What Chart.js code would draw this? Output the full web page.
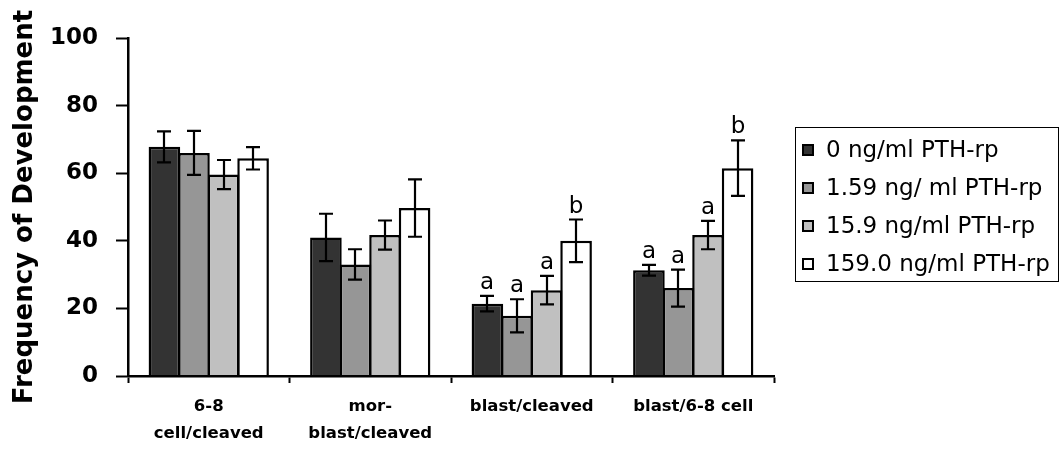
<!DOCTYPE html>
<html>
<head>
<meta charset="utf-8">
<script src="https://cdn.jsdelivr.net/npm/chart.js@4/dist/chart.umd.min.js"></script>
<style>
  html, body { margin: 0; padding: 0; background: #fff; }
  canvas { display: block; }
</style>
</head>
<body>
<canvas id="chart" width="1060" height="450"></canvas>
<script>
const FONT = "'DejaVu Sans', sans-serif"

const categories = [
  ['6-8', 'cell/cleaved'],
  ['mor-', 'blast/cleaved'],
  'blast/cleaved',
  'blast/6-8 cell',
]

const seriesLabels = [
  '0 ng/ml PTH-rp',
  '1.59 ng/ ml PTH-rp',
  '15.9 ng/ml PTH-rp',
  '159.0 ng/ml PTH-rp',
]

const seriesColors = ['#333333', '#969696', '#c0c0c0', '#ffffff']

const dose0 = [67.8, 41.0, 21.4, 31.3]
const dose1 = [66.0, 33.0, 17.8, 26.0]
const dose2 = [59.6, 41.7, 25.4, 41.7]
const dose3 = [64.4, 49.7, 40.0, 61.5]

const err0 = [4.6, 7.0, 2.3, 1.6]
const err1 = [6.5, 4.5, 4.9, 5.5]
const err2 = [4.3, 4.3, 4.2, 4.2]
const err3 = [3.3, 8.5, 6.3, 8.2]

const letters0 = ['', '', 'a', 'a']
const letters1 = ['', '', 'a', 'a']
const letters2 = ['', '', 'a', 'a']
const letters3 = ['', '', 'b', 'b']

const yTicks = [0, 20, 40, 60, 80, 100]

const values = [dose0, dose1, dose2, dose3]
const errors = [err0, err1, err2, err3]
const letters = [letters0, letters1, letters2, letters3]

// error bars plus the significance letters above them
const errorBarPlugin = {
  id: 'errorBars',
  afterDatasetsDraw(chart) {
    const { ctx } = chart
    const y = chart.scales.y
    ctx.save()
    ctx.strokeStyle = '#000'
    ctx.lineWidth = 2.2
    chart.data.datasets.forEach((ds, di) => {
      const meta = chart.getDatasetMeta(di)
      meta.data.forEach((bar, i) => {
        const v = ds.data[i]
        const e = ds.errors[i]
        const top = y.getPixelForValue(v + e)
        const bottom = y.getPixelForValue(v - e)
        const x = Math.round(bar.x)
        ctx.beginPath()
        ctx.moveTo(x, top)
        ctx.lineTo(x, bottom)
        ctx.moveTo(x - 7, top)
        ctx.lineTo(x + 7, top)
        ctx.moveTo(x - 7, bottom)
        ctx.lineTo(x + 7, bottom)
        ctx.stroke()

        const letter = ds.letters[i]
        if (letter) {
          ctx.fillStyle = '#000'
          ctx.font = `23px ${FONT}`
          ctx.textAlign = 'center'
          ctx.textBaseline = 'alphabetic'
          ctx.fillText(letter, x, top - 7)
        }
      })
    })
    ctx.restore()
  },
}

const boxLegendPlugin = {
  id: 'boxLegend',
  afterDraw(chart) {
    const { ctx } = chart
    ctx.save()
    ctx.strokeStyle = '#000'
    ctx.lineWidth = 1
    ctx.strokeRect(795.5, 127.5, 263, 154)
    ctx.font = `23px ${FONT}`
    ctx.textAlign = 'left'
    ctx.textBaseline = 'middle'
    chart.data.datasets.forEach((ds, i) => {
      const cy = 150 + i * 38
      ctx.fillStyle = ds.backgroundColor
      ctx.fillRect(803, cy - 5, 10, 10)
      ctx.lineWidth = 2
      ctx.strokeRect(803, cy - 5, 10, 10)
      ctx.fillStyle = '#000'
      ctx.fillText(ds.label, 826, cy + 1)
    })
    ctx.restore()
  },
}

function makeDataset(i) {
  return {
    label: seriesLabels[i],
    data: values[i],
    errors: errors[i],
    letters: letters[i],
    backgroundColor: seriesColors[i],
    borderColor: '#000',
    borderWidth: 2.5,
    borderSkipped: 'start',
    inflateAmount: 0,
    barPercentage: 1.07,
    categoryPercentage: 0.732,
  }
}

new Chart(document.getElementById('chart'), {
  type: 'bar',
  data: {
    labels: categories,
    datasets: values.map((_, i) => makeDataset(i)),
  },
  options: {
    responsive: false,
    devicePixelRatio: 1,
    animation: false,
    layout: { padding: { left: 0, top: 38, right: 286, bottom: 0 } },
    plugins: {
      legend: { display: false },
      tooltip: { enabled: false },
    },
    scales: {
      x: {
        grid: {
          offset: true,
          drawOnChartArea: false,
          drawTicks: true,
          tickLength: 7,
          tickColor: '#000',
          tickWidth: 2,
        },
        border: { color: '#000', width: 2.5, z: 1 },
        ticks: {
          color: '#000',
          padding: 10,
          maxRotation: 0,
          autoSkip: false,
          font: { family: FONT, size: 16.5, weight: 'bold', lineHeight: 1.65 },
        },
        afterFit(scale) { scale.height = 74 },
      },
      y: {
        min: 0,
        max: 100,
        afterBuildTicks(scale) { scale.ticks = yTicks.map((value) => ({ value })) },
        grid: {
          drawOnChartArea: false,
          drawTicks: true,
          tickLength: 12,
          tickColor: '#000',
          tickWidth: 2,
        },
        border: { color: '#000', width: 2.5 },
        ticks: {
          color: '#000',
          padding: 18,
          font: { family: FONT, size: 23, weight: 'bold' },
        },
        title: {
          display: true,
          text: 'Frequency of Development',
          color: '#000',
          padding: { top: 10, bottom: 0 },
          font: { family: FONT, size: 26, weight: 'bold', lineHeight: 1.2 },
        },
        afterFit(scale) { scale.width = 128 },
      },
    },
  },
  plugins: [errorBarPlugin, boxLegendPlugin],
})
</script>
</body>
</html>
